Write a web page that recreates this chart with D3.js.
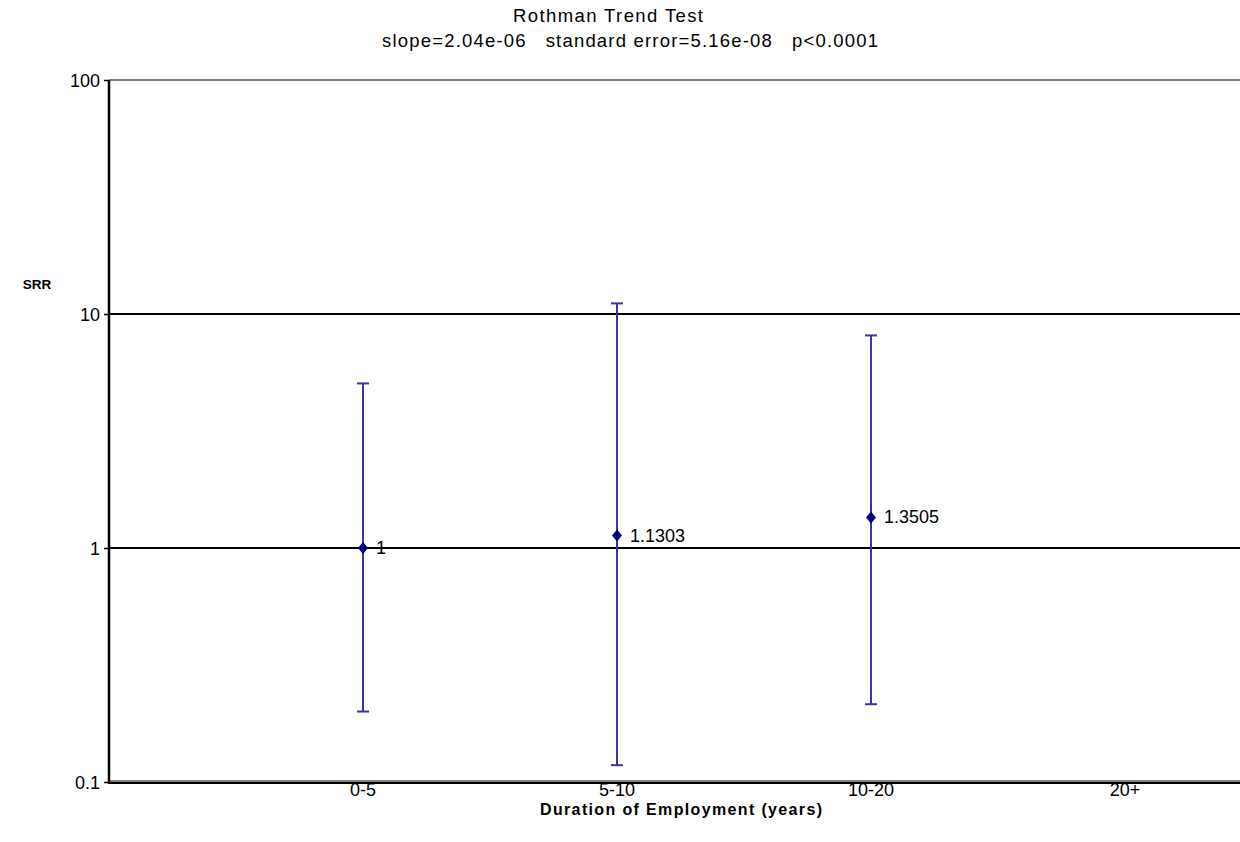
<!DOCTYPE html>
<html>
<head>
<meta charset="utf-8">
<script src="https://cdn.jsdelivr.net/npm/d3@7"></script>
<style>
  body { margin: 0; background: #fff; }
  text { font-family: "Liberation Sans", Arial, sans-serif; }
</style>
</head>
<body>
<script>
"use strict";

// Width and height
let w = 1240;
let h = 842;

// data
let categories = ["0-5", "5-10", "10-20", "20+"];
let srr = [1, 1.1303, 1.3505, null];
let lower = [0.2, 0.118, 0.215, null];
let upper = [5.05, 11.1, 8.1, null];
let yTicks = [0.1, 1, 10, 100];

let margin = {left: 109, top: 80, bottom: 782, right: 1240};

let svg = d3.select("body").append("svg")
    .attr("width", w)
    .attr("height", h);

let x = d3.scaleLinear()
    .domain([0, categories.length])
    .range([margin.left, margin.left + 254 * categories.length]);

let y = d3.scaleLog()
    .domain([0.1, 100])
    .range([margin.bottom, margin.top]);

// title (textLength used to get the wide spacing of the original)
svg.append("text")
    .attr("x", 608).attr("y", 22)
    .attr("text-anchor", "middle")
    .attr("font-size", 18.5)
    .attr("textLength", 190).attr("lengthAdjust", "spacing")
    .text("Rothman Trend Test");
svg.append("text")
    .attr("x", 630).attr("y", 47)
    .attr("text-anchor", "middle")
    .attr("font-size", 18.5)
    .attr("textLength", 496).attr("lengthAdjust", "spacing")
    .style("white-space", "pre")
    .text("slope=2.04e-06   standard error=5.16e-08   p<0.0001");

// gridlines at 1 and 10
svg.append("g").selectAll("line")
    .data([1, 10])
    .enter().append("line")
    .attr("x1", margin.left).attr("x2", margin.right)
    .attr("y1", d => y(d)).attr("y2", d => y(d))
    .attr("stroke", "#000").attr("stroke-width", 2);

// top border (grey) and bottom border
svg.append("line")
    .attr("x1", margin.left).attr("x2", margin.right)
    .attr("y1", y(100)).attr("y2", y(100))
    .attr("stroke", "#808080").attr("stroke-width", 2);
svg.append("line")
    .attr("x1", margin.left).attr("x2", margin.right)
    .attr("y1", y(0.1) - 1).attr("y2", y(0.1) - 1)
    .attr("stroke", "#808080").attr("stroke-width", 2);
svg.append("line")
    .attr("x1", margin.left).attr("x2", margin.right)
    .attr("y1", y(0.1) + 1).attr("y2", y(0.1) + 1)
    .attr("stroke", "#000").attr("stroke-width", 2);

// y axis
let yAxis = svg.append("g")
    .attr("transform", `translate(${margin.left},0)`)
    .call(d3.axisLeft(y).tickValues(yTicks).tickFormat(d3.format("~g")).tickSize(5).tickPadding(4));
yAxis.select(".domain").attr("stroke", "#000").attr("stroke-width", 2.5)
    .attr("d", `M0,${y(100)}V${y(0.1) + 2}`);
yAxis.selectAll(".tick line").attr("stroke", "#000").attr("stroke-width", 1.5);
yAxis.selectAll(".tick text")
    .attr("font-size", 18).attr("fill", "#000")
    .attr("dy", "0.35em")
    .style("font-family", "'Liberation Sans', Arial, sans-serif");

// x tick labels
svg.append("g").selectAll("text")
    .data(categories)
    .enter().append("text")
    .attr("x", (d, i) => x(i + 1))
    .attr("y", 796)
    .attr("text-anchor", "middle")
    .attr("font-size", 18)
    .text(d => d);

// axis titles
svg.append("text")
    .attr("x", 681).attr("y", 815)
    .attr("text-anchor", "middle")
    .attr("font-size", 16).attr("font-weight", "bold")
    .attr("textLength", 282).attr("lengthAdjust", "spacing")
    .text("Duration of Employment (years)");
svg.append("text")
    .attr("x", 37).attr("y", 289)
    .attr("text-anchor", "middle")
    .attr("font-size", 13.5).attr("font-weight", "bold")
    .text("SRR");

// error bars
let pts = categories.map((c, i) => ({c: c, i: i, v: srr[i], lo: lower[i], hi: upper[i]}))
    .filter(d => d.v != null);

let bars = svg.append("g").attr("stroke", "#3535a3").attr("stroke-width", 2);
bars.selectAll(".stem").data(pts).enter().append("line")
    .attr("x1", d => x(d.i + 1)).attr("x2", d => x(d.i + 1))
    .attr("y1", d => y(d.lo)).attr("y2", d => y(d.hi));
bars.selectAll(".caplo").data(pts).enter().append("line")
    .attr("x1", d => x(d.i + 1) - 6).attr("x2", d => x(d.i + 1) + 6)
    .attr("y1", d => y(d.lo)).attr("y2", d => y(d.lo));
bars.selectAll(".caphi").data(pts).enter().append("line")
    .attr("x1", d => x(d.i + 1) - 6).attr("x2", d => x(d.i + 1) + 6)
    .attr("y1", d => y(d.hi)).attr("y2", d => y(d.hi));

// markers
svg.append("g").selectAll("path")
    .data(pts)
    .enter().append("path")
    .attr("d", "M0,-6L5,0L0,6L-5,0Z")
    .attr("transform", d => `translate(${x(d.i + 1)},${y(d.v)})`)
    .attr("fill", "#000080");

// value labels
svg.append("g").selectAll("text")
    .data(pts)
    .enter().append("text")
    .attr("x", d => x(d.i + 1) + 13)
    .attr("y", d => y(d.v) + 6)
    .attr("font-size", 18)
    .text(d => d.v);
</script>
</body>
</html>
